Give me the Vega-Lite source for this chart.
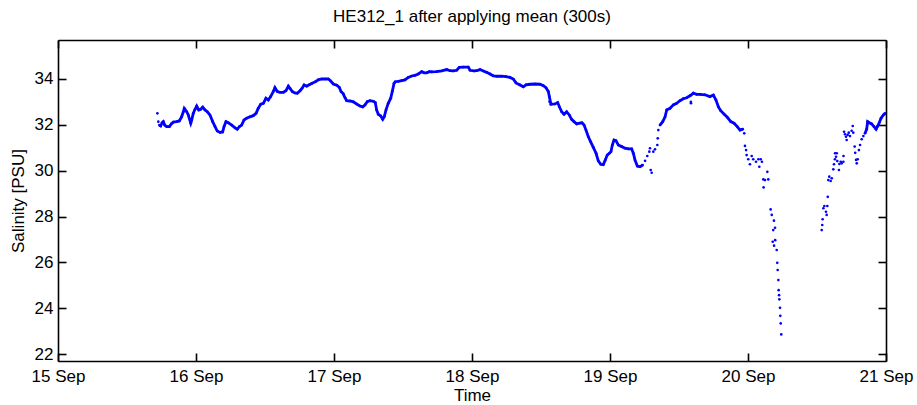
{
  "$schema": "https://vega.github.io/schema/vega-lite/v6.json",
  "width": 828,
  "height": 321,
  "autosize": {"type": "none"},
  "padding": {"left": 58, "top": 40, "right": 31, "bottom": 44},
  "background": "white",
  "title": {"text": "HE312_1 after applying mean (300s)", "font": "Liberation Sans", "fontSize": 17, "fontWeight": "normal", "color": "black", "offset": 13},
  "config": {
    "view": {"stroke": null},
    "axis": {"domainColor": "black", "domainWidth": 1.6, "tickColor": "black", "tickWidth": 1.6, "tickSize": -8, "grid": false,
      "labelFont": "Liberation Sans", "labelFontSize": 17, "labelColor": "black",
      "titleFont": "Liberation Sans", "titleFontSize": 17, "titleFontWeight": "normal", "titleColor": "black"}
  },
  "data": {"values": [
    {"t":15.720,"s":32.50,"g":0},{"t":15.727,"s":32.14,"g":0},{"t":15.734,"s":31.99,"g":1},{"t":15.744,"s":31.95,"g":1},{"t":15.754,"s":32.09,"g":1},{"t":15.763,"s":32.14,"g":1},{"t":15.773,"s":31.99,"g":1},{"t":15.788,"s":31.92,"g":1},{"t":15.807,"s":31.92,"g":1},{"t":15.821,"s":32.04,"g":1},{"t":15.836,"s":32.12,"g":1},{"t":15.860,"s":32.14,"g":1},{"t":15.879,"s":32.17,"g":1},{"t":15.896,"s":32.35,"g":1},{"t":15.908,"s":32.57,"g":1},{"t":15.915,"s":32.72,"g":1},{"t":15.933,"s":32.57,"g":1},{"t":15.944,"s":32.43,"g":1},{"t":15.962,"s":32.07,"g":1},{"t":15.969,"s":32.21,"g":1},{"t":15.980,"s":32.50,"g":1},{"t":15.993,"s":32.68,"g":1},{"t":16.005,"s":32.82,"g":1},{"t":16.020,"s":32.65,"g":1},{"t":16.034,"s":32.68,"g":1},{"t":16.049,"s":32.77,"g":1},{"t":16.065,"s":32.65,"g":1},{"t":16.082,"s":32.57,"g":1},{"t":16.101,"s":32.43,"g":1},{"t":16.121,"s":32.14,"g":1},{"t":16.138,"s":31.92,"g":1},{"t":16.154,"s":31.73,"g":1},{"t":16.174,"s":31.67,"g":1},{"t":16.193,"s":31.69,"g":1},{"t":16.203,"s":31.92,"g":1},{"t":16.217,"s":32.14,"g":1},{"t":16.234,"s":32.09,"g":1},{"t":16.259,"s":31.99,"g":1},{"t":16.283,"s":31.87,"g":1},{"t":16.299,"s":31.81,"g":1},{"t":16.314,"s":31.92,"g":1},{"t":16.331,"s":31.99,"g":1},{"t":16.348,"s":32.21,"g":1},{"t":16.367,"s":32.29,"g":1},{"t":16.391,"s":32.35,"g":1},{"t":16.415,"s":32.40,"g":1},{"t":16.435,"s":32.50,"g":1},{"t":16.451,"s":32.72,"g":1},{"t":16.469,"s":32.90,"g":1},{"t":16.488,"s":32.94,"g":1},{"t":16.507,"s":33.16,"g":1},{"t":16.524,"s":33.08,"g":1},{"t":16.541,"s":33.23,"g":1},{"t":16.560,"s":33.45,"g":1},{"t":16.572,"s":33.62,"g":1},{"t":16.589,"s":33.45,"g":1},{"t":16.609,"s":33.42,"g":1},{"t":16.633,"s":33.42,"g":1},{"t":16.652,"s":33.49,"g":1},{"t":16.669,"s":33.69,"g":1},{"t":16.681,"s":33.59,"g":1},{"t":16.698,"s":33.45,"g":1},{"t":16.717,"s":33.39,"g":1},{"t":16.734,"s":33.38,"g":1},{"t":16.754,"s":33.49,"g":1},{"t":16.768,"s":33.59,"g":1},{"t":16.783,"s":33.74,"g":1},{"t":16.802,"s":33.69,"g":1},{"t":16.821,"s":33.75,"g":1},{"t":16.841,"s":33.81,"g":1},{"t":16.865,"s":33.88,"g":1},{"t":16.886,"s":33.96,"g":1},{"t":16.911,"s":34.00,"g":1},{"t":16.935,"s":34.00,"g":1},{"t":16.959,"s":34.00,"g":1},{"t":16.976,"s":33.91,"g":1},{"t":16.995,"s":33.78,"g":1},{"t":17.020,"s":33.73,"g":1},{"t":17.038,"s":33.64,"g":1},{"t":17.051,"s":33.45,"g":1},{"t":17.067,"s":33.35,"g":1},{"t":17.080,"s":33.18,"g":1},{"t":17.092,"s":33.05,"g":1},{"t":17.116,"s":33.04,"g":1},{"t":17.140,"s":33.00,"g":1},{"t":17.164,"s":32.91,"g":1},{"t":17.188,"s":32.82,"g":1},{"t":17.208,"s":32.78,"g":1},{"t":17.225,"s":32.87,"g":1},{"t":17.241,"s":33.01,"g":1},{"t":17.261,"s":33.05,"g":1},{"t":17.285,"s":33.03,"g":1},{"t":17.299,"s":32.97,"g":1},{"t":17.309,"s":32.65,"g":1},{"t":17.321,"s":32.46,"g":1},{"t":17.338,"s":32.39,"g":1},{"t":17.353,"s":32.24,"g":1},{"t":17.364,"s":32.35,"g":1},{"t":17.377,"s":32.65,"g":1},{"t":17.393,"s":32.94,"g":1},{"t":17.411,"s":33.16,"g":1},{"t":17.422,"s":33.45,"g":1},{"t":17.435,"s":33.81,"g":1},{"t":17.444,"s":33.88,"g":1},{"t":17.466,"s":33.90,"g":1},{"t":17.491,"s":33.93,"g":1},{"t":17.514,"s":33.96,"g":1},{"t":17.538,"s":34.07,"g":1},{"t":17.563,"s":34.13,"g":1},{"t":17.587,"s":34.16,"g":1},{"t":17.611,"s":34.22,"g":1},{"t":17.636,"s":34.32,"g":1},{"t":17.652,"s":34.27,"g":1},{"t":17.672,"s":34.27,"g":1},{"t":17.691,"s":34.32,"g":1},{"t":17.708,"s":34.31,"g":1},{"t":17.744,"s":34.32,"g":1},{"t":17.780,"s":34.35,"g":1},{"t":17.817,"s":34.41,"g":1},{"t":17.841,"s":34.36,"g":1},{"t":17.864,"s":34.35,"g":1},{"t":17.889,"s":34.38,"g":1},{"t":17.908,"s":34.51,"g":1},{"t":17.937,"s":34.52,"g":1},{"t":17.973,"s":34.52,"g":1},{"t":17.986,"s":34.38,"g":1},{"t":18.014,"s":34.35,"g":1},{"t":18.034,"s":34.36,"g":1},{"t":18.058,"s":34.41,"g":1},{"t":18.082,"s":34.35,"g":1},{"t":18.107,"s":34.29,"g":1},{"t":18.130,"s":34.22,"g":1},{"t":18.154,"s":34.14,"g":1},{"t":18.183,"s":34.12,"g":1},{"t":18.215,"s":34.12,"g":1},{"t":18.246,"s":34.10,"g":1},{"t":18.275,"s":34.07,"g":1},{"t":18.299,"s":34.00,"g":1},{"t":18.319,"s":33.83,"g":1},{"t":18.348,"s":33.74,"g":1},{"t":18.372,"s":33.66,"g":1},{"t":18.391,"s":33.74,"g":1},{"t":18.420,"s":33.77,"g":1},{"t":18.457,"s":33.78,"g":1},{"t":18.493,"s":33.77,"g":1},{"t":18.517,"s":33.71,"g":1},{"t":18.536,"s":33.62,"g":1},{"t":18.553,"s":33.45,"g":1},{"t":18.560,"s":33.23,"g":0},{"t":18.562,"s":33.01,"g":0},{"t":18.572,"s":32.90,"g":1},{"t":18.601,"s":32.91,"g":1},{"t":18.621,"s":32.97,"g":1},{"t":18.633,"s":32.79,"g":1},{"t":18.650,"s":32.57,"g":1},{"t":18.667,"s":32.46,"g":1},{"t":18.686,"s":32.57,"g":1},{"t":18.705,"s":32.43,"g":1},{"t":18.722,"s":32.24,"g":1},{"t":18.739,"s":32.14,"g":1},{"t":18.759,"s":32.04,"g":1},{"t":18.778,"s":32.07,"g":1},{"t":18.797,"s":32.09,"g":1},{"t":18.812,"s":31.99,"g":1},{"t":18.826,"s":31.77,"g":1},{"t":18.843,"s":31.48,"g":1},{"t":18.860,"s":31.26,"g":1},{"t":18.879,"s":31.02,"g":1},{"t":18.899,"s":30.76,"g":1},{"t":18.915,"s":30.43,"g":1},{"t":18.933,"s":30.28,"g":1},{"t":18.951,"s":30.26,"g":1},{"t":18.966,"s":30.47,"g":1},{"t":18.980,"s":30.68,"g":1},{"t":18.995,"s":30.76,"g":1},{"t":19.007,"s":30.83,"g":1},{"t":19.017,"s":31.12,"g":1},{"t":19.029,"s":31.34,"g":1},{"t":19.043,"s":31.31,"g":1},{"t":19.060,"s":31.12,"g":1},{"t":19.085,"s":31.05,"g":1},{"t":19.109,"s":30.98,"g":1},{"t":19.133,"s":30.95,"g":1},{"t":19.157,"s":30.95,"g":1},{"t":19.169,"s":30.76,"g":1},{"t":19.181,"s":30.47,"g":1},{"t":19.198,"s":30.20,"g":1},{"t":19.217,"s":30.17,"g":1},{"t":19.237,"s":30.25,"g":1},{"t":19.254,"s":30.43,"g":0},{"t":19.270,"s":30.64,"g":0},{"t":19.285,"s":30.83,"g":0},{"t":19.290,"s":30.98,"g":0},
    {"t":19.295,"s":30.03,"g":0},{"t":19.302,"s":29.91,"g":0},{"t":19.314,"s":30.83,"g":0},{"t":19.326,"s":30.93,"g":0},{"t":19.343,"s":31.12,"g":0},{"t":19.346,"s":31.41,"g":0},{"t":19.350,"s":31.77,"g":0},
    {"t":19.362,"s":31.99,"g":2},{"t":19.382,"s":32.14,"g":2},{"t":19.399,"s":32.35,"g":2},{"t":19.411,"s":32.65,"g":2},{"t":19.435,"s":32.72,"g":2},{"t":19.459,"s":32.87,"g":2},{"t":19.483,"s":32.94,"g":2},{"t":19.507,"s":33.05,"g":2},{"t":19.531,"s":33.14,"g":2},{"t":19.556,"s":33.18,"g":2},{"t":19.585,"s":33.29,"g":2},{"t":19.586,"s":33.00,"g":0},{"t":19.587,"s":32.94,"g":0},{"t":19.604,"s":33.38,"g":2},{"t":19.628,"s":33.33,"g":2},{"t":19.652,"s":33.33,"g":2},{"t":19.688,"s":33.31,"g":2},{"t":19.724,"s":33.23,"g":2},{"t":19.749,"s":33.30,"g":2},{"t":19.768,"s":33.08,"g":2},{"t":19.785,"s":32.79,"g":2},{"t":19.802,"s":32.62,"g":2},{"t":19.826,"s":32.47,"g":2},{"t":19.850,"s":32.33,"g":2},{"t":19.875,"s":32.14,"g":2},{"t":19.899,"s":32.07,"g":2},{"t":19.922,"s":31.92,"g":2},{"t":19.942,"s":31.77,"g":2},{"t":19.962,"s":31.81,"g":2},{"t":19.973,"s":31.63,"g":0},
    {"t":19.978,"s":31.08,"g":0},{"t":19.986,"s":30.90,"g":0},{"t":19.990,"s":30.68,"g":0},{"t":20.002,"s":30.50,"g":0},{"t":20.014,"s":30.28,"g":0},{"t":20.027,"s":30.64,"g":0},{"t":20.038,"s":30.50,"g":0},{"t":20.058,"s":30.39,"g":0},{"t":20.075,"s":30.50,"g":0},{"t":20.082,"s":30.17,"g":0},{"t":20.092,"s":30.50,"g":0},{"t":20.101,"s":30.39,"g":0},{"t":20.111,"s":29.62,"g":0},{"t":20.113,"s":29.27,"g":0},{"t":20.123,"s":29.59,"g":0},{"t":20.140,"s":29.95,"g":0},{"t":20.147,"s":29.62,"g":0},{"t":20.164,"s":28.31,"g":0},{"t":20.172,"s":28.07,"g":0},{"t":20.179,"s":26.90,"g":0},{"t":20.183,"s":27.41,"g":0},{"t":20.188,"s":27.82,"g":0},{"t":20.189,"s":26.73,"g":0},{"t":20.196,"s":27.51,"g":0},{"t":20.197,"s":26.97,"g":0},{"t":20.208,"s":26.54,"g":0},{"t":20.212,"s":25.98,"g":0},{"t":20.215,"s":25.67,"g":0},{"t":20.220,"s":25.23,"g":0},{"t":20.222,"s":24.79,"g":0},{"t":20.225,"s":24.57,"g":0},{"t":20.227,"s":24.39,"g":0},{"t":20.232,"s":24.02,"g":0},{"t":20.234,"s":23.67,"g":0},{"t":20.237,"s":23.34,"g":0},{"t":20.241,"s":22.86,"g":0},
    {"t":20.534,"s":27.41,"g":0},{"t":20.538,"s":27.63,"g":0},{"t":20.541,"s":27.88,"g":0},{"t":20.546,"s":28.36,"g":0},{"t":20.553,"s":28.46,"g":0},{"t":20.565,"s":28.21,"g":0},{"t":20.570,"s":28.07,"g":0},{"t":20.575,"s":28.46,"g":0},{"t":20.578,"s":28.86,"g":0},{"t":20.582,"s":29.59,"g":0},{"t":20.589,"s":29.74,"g":0},{"t":20.599,"s":29.55,"g":0},{"t":20.607,"s":29.67,"g":0},{"t":20.618,"s":30.06,"g":0},{"t":20.623,"s":30.28,"g":0},{"t":20.630,"s":30.50,"g":0},{"t":20.631,"s":30.76,"g":0},{"t":20.638,"s":30.61,"g":0},{"t":20.643,"s":30.76,"g":0},{"t":20.647,"s":30.42,"g":0},{"t":20.659,"s":30.03,"g":0},{"t":20.662,"s":30.29,"g":0},{"t":20.672,"s":30.39,"g":0},{"t":20.679,"s":30.32,"g":0},{"t":20.691,"s":30.39,"g":0},{"t":20.692,"s":30.64,"g":0},{"t":20.696,"s":31.70,"g":0},{"t":20.703,"s":31.59,"g":0},{"t":20.710,"s":31.48,"g":0},{"t":20.715,"s":31.34,"g":0},{"t":20.722,"s":31.56,"g":0},{"t":20.730,"s":31.66,"g":0},{"t":20.739,"s":31.51,"g":0},{"t":20.751,"s":31.74,"g":0},{"t":20.759,"s":31.95,"g":0},{"t":20.763,"s":31.66,"g":0},{"t":20.773,"s":31.05,"g":0},{"t":20.777,"s":30.78,"g":0},{"t":20.783,"s":30.47,"g":0},{"t":20.788,"s":30.32,"g":0},{"t":20.795,"s":30.50,"g":0},{"t":20.804,"s":30.90,"g":0},{"t":20.812,"s":31.12,"g":0},{"t":20.824,"s":31.37,"g":0},{"t":20.836,"s":31.51,"g":0},{"t":20.848,"s":31.63,"g":3},{"t":20.860,"s":31.81,"g":3},{"t":20.867,"s":32.14,"g":3},{"t":20.879,"s":32.09,"g":3},{"t":20.896,"s":32.04,"g":3},{"t":20.913,"s":31.92,"g":3},{"t":20.928,"s":31.81,"g":3},{"t":20.937,"s":31.92,"g":3},{"t":20.951,"s":32.09,"g":3},{"t":20.964,"s":32.29,"g":3},{"t":20.981,"s":32.43,"g":3},{"t":20.993,"s":32.50,"g":3}
  ]},
  "resolve": {"axis": {"x": "independent", "y": "independent"}},
  "layer": [
    {
      "transform": [{"filter": "datum.g > 0"}],
      "mark": {"type": "line", "color": "#0000ff", "strokeWidth": 2.8, "clip": true},
      "encoding": {
        "x": {"field": "t", "type": "quantitative", "scale": {"domain": [15, 21], "nice": false, "zero": false},
          "axis": {"orient": "bottom", "title": "Time", "values": [15,16,17,18,19,20,21], "labelExpr": "datum.value + ' Sep'", "labelPadding": 15, "labelFlush": false, "labelOverlap": false, "titlePadding": 3}},
        "y": {"field": "s", "type": "quantitative", "scale": {"domain": [21.7, 35.7], "nice": false, "zero": false},
          "axis": {"orient": "left", "title": "Salinity [PSU]", "values": [22,24,26,28,30,32,34], "labelPadding": 13, "titlePadding": 7}},
        "detail": {"field": "g", "type": "nominal"}
      }
    },
    {
      "mark": {"type": "circle", "color": "#0000ff", "size": 7, "opacity": 1, "clip": true},
      "encoding": {
        "x": {"field": "t", "type": "quantitative", "scale": {"domain": [15, 21], "nice": false, "zero": false},
          "axis": {"orient": "top", "title": null, "labels": false, "values": [15,16,17,18,19,20,21]}},
        "y": {"field": "s", "type": "quantitative", "scale": {"domain": [21.7, 35.7], "nice": false, "zero": false},
          "axis": {"orient": "right", "title": null, "labels": false, "values": [22,24,26,28,30,32,34]}}
      }
    }
  ]
}
